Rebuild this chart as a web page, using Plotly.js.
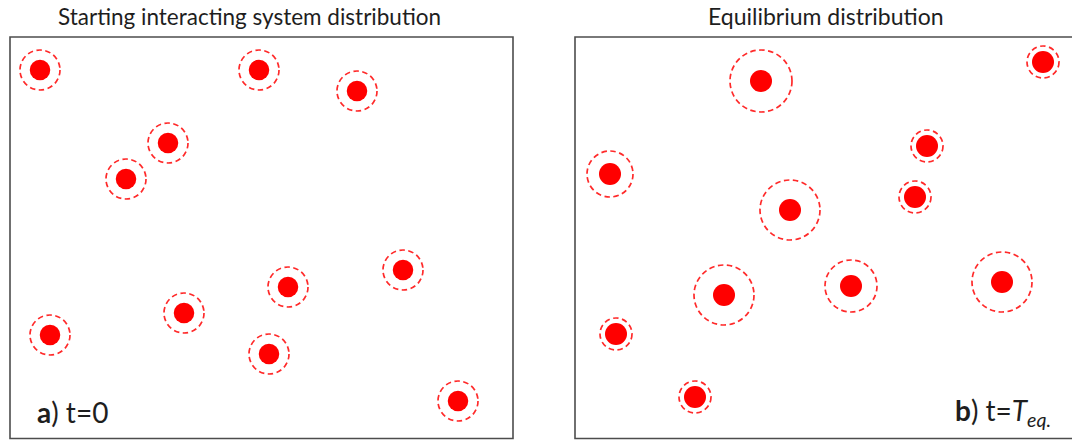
<!DOCTYPE html>
<html>
<head>
<meta charset="utf-8">
<script src="https://cdn.plot.ly/plotly-3.0.1.min.js"></script>
<style>html,body{margin:0;padding:0;background:#fff;}#chart{width:1072px;height:440px;}</style>
</head>
<body>
<div id="chart"></div>
<script>
// Panel titles and labels
const panelTitles = ["Starting interacting system distribution", "Equilibrium distribution"];
const panelLabels = ["<b>a</b>) t=0", "<b>b</b>) t=<i>T<sub>eq.</sub></i>"];

// Panel a: particle positions (box units, x from left, y from top) and interaction radius
const startX = [30, 249, 347, 158, 116, 393, 278, 174, 40, 259, 448];
const startY = [33, 33, 54, 106, 142, 233, 250, 276, 298, 317, 364];
const startR = [20, 20, 20, 20, 20, 20, 20, 20, 20, 20, 20];

// Panel b: equilibrium positions and interaction radius
const eqX = [186, 468, 352, 35, 340, 215, 427, 149, 276, 41, 120];
const eqY = [44, 25, 109, 137, 160, 173, 245, 258, 249, 297, 360];
const eqR = [31, 16, 16, 23, 16, 30, 30, 30, 26, 16, 16];

const W = 1072, H = 440;
const boxTop = 37, boxBot = 438.5;
const leftL = 10, leftR = 513, rightL = 575;

function ringShapes(xs, ys, rs, xref, yref) {
  return xs.map((x, i) => ({
    type: 'circle', xref: xref, yref: yref,
    x0: x - rs[i], x1: x + rs[i], y0: ys[i] - rs[i], y1: ys[i] + rs[i],
    line: {color: '#ff2a2a', width: 1.7, dash: '5.5px,3.5px'},
    fillcolor: 'rgba(0,0,0,0)', layer: 'above'
  }));
}

const traces = [
  {x: startX, y: startY, type: 'scatter', mode: 'markers', xaxis: 'x', yaxis: 'y',
   marker: {color: '#ff0000', size: 20.5, line: {width: 0}}, hoverinfo: 'skip'},
  {x: eqX, y: eqY, type: 'scatter', mode: 'markers', xaxis: 'x2', yaxis: 'y2',
   marker: {color: '#ff0000', size: 22, line: {width: 0}}, hoverinfo: 'skip'}
];

const axBase = {showgrid: false, zeroline: false, showticklabels: false, ticks: '', showline: false, fixedrange: true};
const ydom = [(H - boxBot) / H, (H - boxTop) / H];

const boxLine = {color: '#4d4d4d', width: 1.6};
const shapes = [
  {type: 'rect', xref: 'paper', yref: 'paper', x0: leftL / W, x1: leftR / W, y0: ydom[0], y1: ydom[1], line: boxLine, layer: 'below'},
  {type: 'rect', xref: 'paper', yref: 'paper', x0: rightL / W, x1: 1.05, y0: ydom[0], y1: ydom[1], line: boxLine, layer: 'below'}
].concat(ringShapes(startX, startY, startR, 'x', 'y'))
 .concat(ringShapes(eqX, eqY, eqR, 'x2', 'y2'));

const txtFont = {family: 'Lato, "Open Sans", sans-serif', color: '#1e1e1e'};

const layout = {
  width: W, height: H,
  margin: {l: 0, r: 0, t: 0, b: 0},
  paper_bgcolor: '#ffffff', plot_bgcolor: 'rgba(0,0,0,0)',
  showlegend: false,
  xaxis: Object.assign({}, axBase, {domain: [leftL / W, leftR / W], range: [0, leftR - leftL]}),
  yaxis: Object.assign({}, axBase, {domain: ydom, range: [boxBot - boxTop, 0]}),
  xaxis2: Object.assign({}, axBase, {domain: [rightL / W, 1], range: [0, W - rightL]}),
  yaxis2: Object.assign({}, axBase, {domain: ydom, range: [boxBot - boxTop, 0]}),
  shapes: shapes,
  annotations: [
    {text: panelTitles[0], xref: 'paper', yref: 'paper', x: 249 / W, y: (H - 16) / H, showarrow: false,
     xanchor: 'center', yanchor: 'middle', font: Object.assign({}, txtFont, {size: 22.5})},
    {text: panelTitles[1], xref: 'paper', yref: 'paper', x: 826 / W, y: (H - 16) / H, showarrow: false,
     xanchor: 'center', yanchor: 'middle', font: Object.assign({}, txtFont, {size: 23})},
    {text: panelLabels[0], xref: 'paper', yref: 'paper', x: 35 / W, y: (H - 412) / H, showarrow: false,
     xanchor: 'left', yanchor: 'middle', font: Object.assign({}, txtFont, {size: 28})},
    {text: panelLabels[1], xref: 'paper', yref: 'paper', x: 953 / W, y: (H - 412) / H, showarrow: false,
     xanchor: 'left', yanchor: 'middle', font: Object.assign({}, txtFont, {size: 28})}
  ]
};

Plotly.newPlot('chart', traces, layout, {staticPlot: true, displayModeBar: false});
</script>
</body>
</html>
